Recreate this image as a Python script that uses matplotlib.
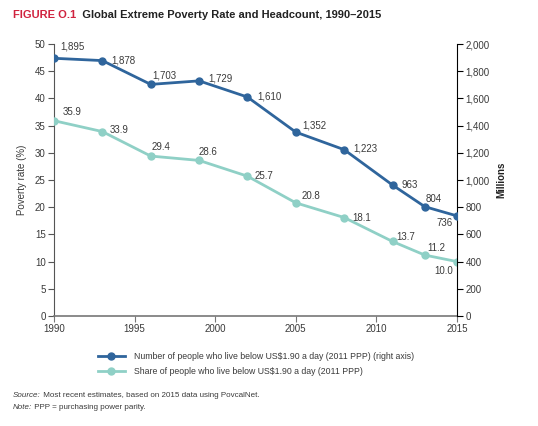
import matplotlib
matplotlib.use("Agg")
import matplotlib.pyplot as plt
from matplotlib.lines import Line2D
from matplotlib.ticker import FuncFormatter

plt.rcParams["font.family"] = ["Liberation Sans Narrow", "Liberation Sans", "DejaVu Sans"]

years = [1990, 1993, 1996, 1999, 2002, 2005, 2008, 2011, 2013, 2015]
headcount = [1895, 1878, 1703, 1729, 1610, 1352, 1223, 963, 804, 736]
rate = [35.9, 33.9, 29.4, 28.6, 25.7, 20.8, 18.1, 13.7, 11.2, 10.0]

DARK = "#2f659c"
LIGHT = "#8fd0c6"
TXT = "#3a3a3a"

# label offsets in pixels (dx right, dy down) from each point
head_off = [(18, -12), (21, 0), (14, -9), (21, -2), (22, -1), (19, -7), (21, -1), (17, 0), (9, -8), (-12, 7)]
rate_off = [(18, -9), (17, -2), (10, -9), (9, -8), (16, 0), (15, -7), (18, 0), (13, -4), (12, -7), (-13, 9)]

fig = plt.figure(figsize=(5.38, 4.26), dpi=100)
ax = fig.add_axes([54 / 538, 1 - 316 / 426, 403 / 538, 272 / 426])
ax2 = ax.twinx()

ax.plot(years, rate, color=LIGHT, lw=2.0, marker="o", ms=5, zorder=3)
ax2.plot(years, headcount, color=DARK, lw=2.0, marker="o", ms=5, zorder=3)

for x, y, (dx, dy) in zip(years, rate, rate_off):
    ax.annotate(f"{y:.1f}", (x, y), xytext=(dx * 0.72, -dy * 0.72), textcoords="offset points",
                ha="center", va="center", fontsize=7, color=TXT)
for x, y, (dx, dy) in zip(years, headcount, head_off):
    ax2.annotate(f"{y:,}", (x, y), xytext=(dx * 0.72, -dy * 0.72), textcoords="offset points",
                 ha="center", va="center", fontsize=7, color=TXT)

ax.set_xlim(1990, 2015)
ax.set_ylim(0, 50)
ax2.set_ylim(0, 2000)
ax.set_xticks(range(1990, 2016, 5))
ax.set_yticks(range(0, 51, 5))
ax2.set_yticks(range(0, 2001, 200))
ax2.yaxis.set_major_formatter(FuncFormatter(lambda v, p: f"{int(v):,}"))

for a in (ax, ax2):
    a.spines["top"].set_visible(False)
    a.tick_params(labelsize=7, labelcolor=TXT, length=4, width=0.8, pad=2)
ax.spines["right"].set_visible(False)
ax.spines["left"].set_color("#555555")
ax.spines["bottom"].set_color("#777777")
ax.spines["bottom"].set_linewidth(1.2)
ax2.spines["left"].set_visible(False)
ax2.spines["bottom"].set_visible(False)
ax2.spines["right"].set_color("black")
ax.tick_params(axis="y", colors="#555555", labelcolor=TXT)
ax.tick_params(axis="x", colors="#777777", labelcolor=TXT)

ax.set_ylabel("Poverty rate (%)", fontsize=7, color=TXT, labelpad=6)
ax2.set_ylabel("Millions", fontsize=7, color="#222222", fontweight="bold", labelpad=5)

handles = [
    Line2D([], [], color=DARK, lw=2.0, marker="o", ms=5),
    Line2D([], [], color=LIGHT, lw=2.0, marker="o", ms=5),
]
labels = [
    "Number of people who live below US$1.90 a day (2011 PPP) (right axis)",
    "Share of people who live below US$1.90 a day (2011 PPP)",
]
fig.legend(handles, labels, loc="upper left", bbox_to_anchor=(90 / 538, 1 - 344 / 426),
           frameon=False, fontsize=6.3, handlelength=3.1, handletextpad=1.0,
           labelspacing=0.75, labelcolor=TXT)

# title
t1 = fig.text(13 / 538, 1 - 18 / 426, "FIGURE O.1", fontsize=8, fontweight="bold",
              color="#d0223e", va="baseline")
plt.annotate("  Global Extreme Poverty Rate and Headcount, 1990\u20132015",
             xy=(1, 0), xycoords=t1, va="bottom", ha="left",
             fontsize=8, fontweight="bold", color="#222222")

# footnotes
s1 = fig.text(13 / 538, 1 - 397 / 426, "Source:", fontsize=5.8, style="italic", color=TXT, va="baseline")
plt.annotate(" Most recent estimates, based on 2015 data using PovcalNet.", xy=(1, 0), xycoords=s1,
             va="bottom", ha="left", fontsize=5.8, color=TXT)
n1 = fig.text(13 / 538, 1 - 409 / 426, "Note:", fontsize=5.8, style="italic", color=TXT, va="baseline")
plt.annotate(" PPP = purchasing power parity.", xy=(1, 0), xycoords=n1,
             va="bottom", ha="left", fontsize=5.8, color=TXT)

fig.savefig("out.png", dpi=100)
